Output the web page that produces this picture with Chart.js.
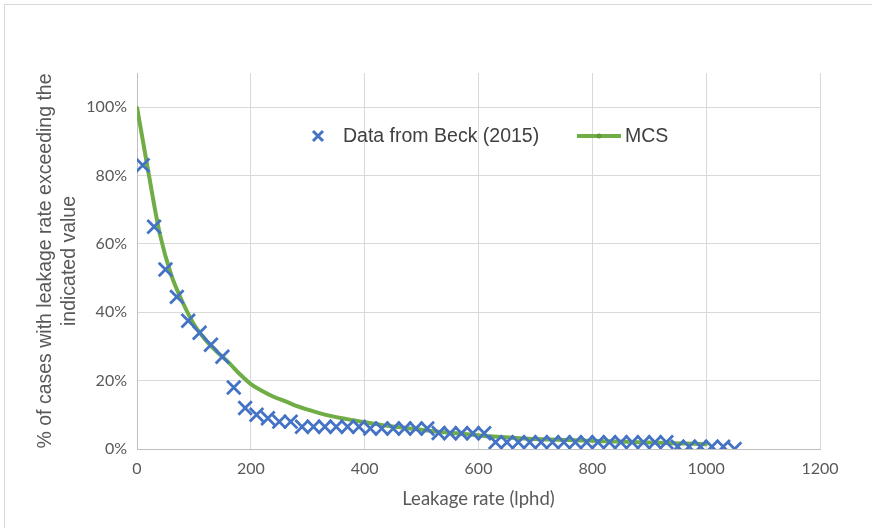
<!DOCTYPE html>
<html>
<head>
<meta charset="utf-8">
<script src="https://cdn.jsdelivr.net/npm/chart.js@4.4.1/dist/chart.umd.min.js"></script>
<style>
    body { margin: 0; overflow: hidden; background: #fff; }
    #wrap { position: relative; width: 872px; height: 528px; }
    #frame { position: absolute; left: 4px; top: 4px; width: 900px; height: 600px; border: 1px solid #d9d9d9; pointer-events: none; }
    .lg { position: absolute; font: 19.5px "Liberation Sans", Arial, sans-serif; color: #404040; line-height: 19.5px; white-space: nowrap; }
</style>
</head>
<body>
<div id="wrap">
    <canvas id="chart" width="872" height="528"></canvas>
    <div id="frame"></div>
    <svg class="lg" style="left:311px;top:129px" width="14" height="14"><path d="M2 2 L12 12 M12 2 L2 12" stroke="#4472C4" stroke-width="3"/></svg>
    <span class="lg" style="left:343px;top:126px">Data from Beck (2015)</span>
    <svg class="lg" style="left:577px;top:131px" width="44" height="10"><line x1="0" y1="5" x2="44" y2="5" stroke="#70AD47" stroke-width="4"/><circle cx="22" cy="5" r="2.5" fill="#5f9a3b"/></svg>
    <span class="lg" style="left:625px;top:126px">MCS</span>
</div>
<script>
// Data from Beck (2015), leakage rate (lphd) vs % exceeding
const beckX = [10, 30, 50, 70, 90, 110, 130, 150, 170, 190, 210, 230, 250, 270, 290, 310, 330, 350,
    370, 390, 410, 430, 450, 470, 490, 510, 530, 550, 570, 590, 610, 630, 650, 670, 690, 710,
    730, 750, 770, 790, 810, 830, 850, 870, 890, 910, 930, 950, 970, 990, 1010, 1030, 1050];
const beckY = [83, 65, 52.5, 44.5, 37.5, 34, 30.5, 27, 18, 12, 10, 9, 8, 8, 6.5, 6.5, 6.5, 6.5,
    6.5, 6.5, 6, 6, 6, 6, 6, 6, 4.7, 4.6, 4.6, 4.6, 4.6, 2, 2, 2, 2, 2,
    2, 2, 2, 2, 2, 2, 2, 2, 2, 2, 2, 0.7, 0.7, 0.7, 0.7, 0.7, 0];

// MCS curve
const mcsX = [0, 20, 40, 60, 80, 100, 120, 140, 160, 180, 200, 220, 240, 260, 280, 300, 320, 340,
    360, 380, 400, 420, 440, 460, 480, 500, 520, 540, 560, 580, 600, 620, 640, 660, 680, 700,
    720, 740, 760, 780, 800, 820, 840, 860, 880, 900, 920, 940, 960, 980, 1000];
const mcsY = [100, 81, 63, 51, 43, 36.5, 32, 28.5, 25.5, 22, 19, 17, 15.3, 14, 12.6, 11.5, 10.5, 9.7,
    9, 8.4, 7.8, 7.3, 6.8, 6.4, 6, 5.6, 5.2, 4.9, 4.6, 4.3, 4, 3.7, 3.5, 3.3, 3.1, 2.9,
    2.8, 2.7, 2.6, 2.5, 2.4, 2.3, 2.2, 2.1, 2.0, 1.9, 1.8, 1.7, 1.6, 1.5, 1.4];

const xTicks = [0, 200, 400, 600, 800, 1000, 1200];
const yTicks = [0, 20, 40, 60, 80, 100];

const toPoints = (xs, ys) => xs.map((x, i) => ({ x: x, y: ys[i] }));

const tickFont = { family: 'Lato', size: 16 };

new Chart(document.getElementById('chart'), {
    type: 'scatter',
    data: {
        datasets: [
            {
                label: 'Data from Beck (2015)',
                data: toPoints(beckX, beckY),
                pointStyle: 'crossRot',
                pointRadius: 9.5,
                pointHoverRadius: 9.5,
                borderColor: '#4472C4',
                backgroundColor: '#4472C4',
                pointBorderWidth: 2.8,
                order: 1
            },
            {
                type: 'line',
                label: 'MCS',
                data: toPoints(mcsX, mcsY),
                borderColor: '#70AD47',
                backgroundColor: '#70AD47',
                borderWidth: 4,
                pointRadius: 1.5,
                pointBorderWidth: 0,
                cubicInterpolationMode: 'monotone',
                order: 2
            }
        ]
    },
    options: {
        responsive: false,
        animation: false,
        layout: { padding: { left: 33, right: 52, top: 73, bottom: 18 } },
        plugins: {
            legend: { display: false },
            tooltip: { enabled: false }
        },
        scales: {
            x: {
                type: 'linear',
                min: 0,
                max: 1200,
                afterBuildTicks: s => { s.ticks = xTicks.map(v => ({ value: v })); },
                afterFit: s => { s.height = 61; },
                grid: { color: '#d9d9d9', drawTicks: false },
                border: { color: '#bfbfbf' },
                ticks: { color: '#595959', font: tickFont, padding: 10, maxRotation: 0, callback: v => String(v) },
                title: {
                    display: true,
                    text: 'Leakage rate (lphd)',
                    color: '#595959',
                    font: { family: 'Lato', size: 18.5 },
                    padding: 0
                }
            },
            y: {
                min: 0,
                max: 110,
                afterBuildTicks: s => { s.ticks = yTicks.map(v => ({ value: v })); },
                afterFit: s => { s.width = 104; },
                grid: { color: '#d9d9d9', drawTicks: false },
                border: { color: '#bfbfbf' },
                ticks: { color: '#595959', font: tickFont, padding: 10, callback: v => v + '%' },
                title: {
                    display: true,
                    text: ['% of cases with leakage rate exceeding the', 'indicated value'],
                    color: '#595959',
                    font: { family: 'Liberation Sans', size: 19.5, lineHeight: 1.25 },
                    padding: 0
                }
            }
        }
    }
});
</script>
</body>
</html>
